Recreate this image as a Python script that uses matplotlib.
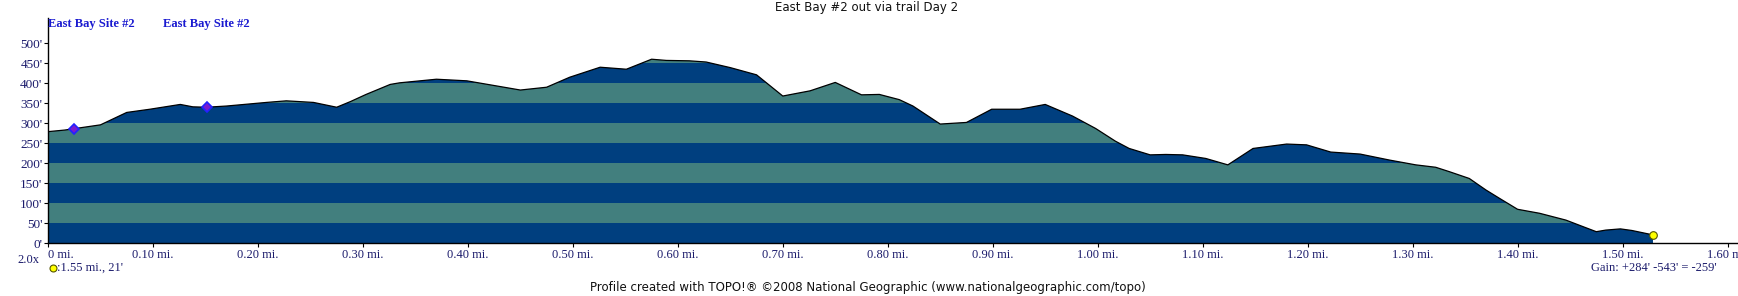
import numpy as np
import matplotlib.pyplot as plt
from matplotlib.patches import Polygon

# profile (miles, feet)
dist = [0.000, 0.016, 0.050, 0.075, 0.097, 0.126, 0.138, 0.151, 0.170, 0.208,
        0.227, 0.253, 0.275, 0.288, 0.303, 0.326, 0.335, 0.370, 0.399, 0.450,
        0.475, 0.497, 0.526, 0.551, 0.575, 0.589, 0.611, 0.627, 0.650, 0.675,
        0.700, 0.726, 0.750, 0.775, 0.792, 0.811, 0.824, 0.850, 0.875, 0.899,
        0.926, 0.950, 0.976, 0.998, 1.017, 1.030, 1.050, 1.065, 1.081, 1.103,
        1.124, 1.148, 1.180, 1.199, 1.222, 1.250, 1.278, 1.303, 1.322, 1.335,
        1.354, 1.370, 1.383, 1.400, 1.421, 1.446, 1.462, 1.475, 1.484, 1.498,
        1.509, 1.529]
elev = [279, 283, 296, 327, 335, 347, 341, 340, 343, 352,
        356, 352, 340, 354, 372, 397, 401, 410, 406, 383,
        390, 415, 440, 435, 460, 457, 456, 453, 439, 421,
        368, 381, 402, 371, 372, 359, 343, 298, 302, 335,
        335, 347, 318, 287, 255, 237, 221, 222, 221, 212,
        196, 237, 248, 246, 228, 223, 208, 196, 190, 179,
        162, 133, 112, 85, 75, 58, 42, 29, 33, 36,
        32, 21]

waypoint_dist = [0.025, 0.151]
waypoint_elev = [285, 340]
waypoint_names = ["East Bay Site #2", "East Bay Site #2"]
label_dist = [0.0, 0.110]

end_dist = 1.529
end_elev = 21

yticks = [0, 50, 100, 150, 200, 250, 300, 350, 400, 450, 500]
xticks = [0.0, 0.1, 0.2, 0.3, 0.4, 0.5, 0.6, 0.7, 0.8, 0.9, 1.0, 1.1, 1.2, 1.3, 1.4, 1.5, 1.6]
xlabels = ["0 mi."] + ["%.2f mi." % v for v in xticks[1:]]

dark = '#003f7f'
teal = '#427f7e'
navy = '#1c1c6c'
serif = ['Liberation Serif', 'DejaVu Serif']

fig = plt.figure(figsize=(17.38, 2.96), dpi=100)
ax = fig.add_axes([48 / 1738, 52.7 / 296, 1 - 48 / 1738, 225.3 / 296])

x = np.array(dist)
y = np.array(elev)
poly = Polygon(np.column_stack([np.r_[x, x[-1], x[0]], np.r_[y, 0, 0]]),
               closed=True, facecolor='none', edgecolor='none')
ax.add_patch(poly)
# 50 ft bands, clipped to the profile
for k in range(10):
    band = ax.axhspan(50 * k, 50 * (k + 1), color=dark if k % 2 == 0 else teal, lw=0)
    band.set_clip_path(poly)
ax.plot(x, y, color='black', lw=0.9)

ax.plot(waypoint_dist, waypoint_elev, 'D', ms=5, mfc='#7a1ad0', mec='#2222ff', mew=1.2)
for lx, name in zip(label_dist, waypoint_names):
    ax.text(lx, 548, name, color='#1a1ad0', fontsize=9, fontweight='bold',
            family=serif, ha='left', va='center')
ax.plot([end_dist], [end_elev], 'o', ms=5.5, mfc='#ffff00', mec='#555500', mew=0.8)

ax.set_xlim(0, 1.61)
ax.set_ylim(0, 563)
ax.set_xticks(xticks)
ax.set_xticklabels(xlabels)
ax.set_yticks(yticks)
ax.set_yticklabels(["%d'" % v for v in yticks])
for lab in ax.get_xticklabels():
    lab.set_family(serif)
    lab.set_fontsize(9)
    lab.set_color(navy)
for lab in ax.get_yticklabels():
    lab.set_family(serif)
    lab.set_fontsize(9.5)
    lab.set_color(navy)
ax.get_xticklabels()[0].set_horizontalalignment('left')
ax.tick_params(axis='y', length=3, width=0.8, pad=1)
ax.tick_params(axis='x', length=3, width=0.8, pad=1)
for s in ['top', 'right']:
    ax.spines[s].set_visible(False)
ax.spines['left'].set_linewidth(1.0)
ax.spines['bottom'].set_linewidth(1.0)
ax.set_facecolor('white')

fig.text(867 / 1738, 1 - 8 / 296, "East Bay #2 out via trail Day 2", ha='center', va='center',
         fontsize=8.5, color='#111111', family='DejaVu Sans')
fig.text(868 / 1738, 1 - 288 / 296,
         "Profile created with TOPO!\u00ae \u00a92008 National Geographic (www.nationalgeographic.com/topo)",
         ha='center', va='center', fontsize=8.5, color='#111111', family='DejaVu Sans')
fig.text(17 / 1738, 1 - 260 / 296, "2.0x", ha='left', va='center', fontsize=9,
         color=navy, family=serif)
fig.text(57 / 1738, 1 - 268 / 296, ":1.55 mi., 21'", ha='left', va='center', fontsize=9,
         color=navy, family=serif)
fig.add_artist(plt.Line2D([53 / 1738], [1 - 268 / 296], marker='o', ms=5, mfc='#ffff00',
                          mec='#555500', mew=0.8, transform=fig.transFigure))
fig.text(1717 / 1738, 1 - 268 / 296, "Gain: +284' -543' = -259'", ha='right', va='center',
         fontsize=9, color=navy, family=serif)

fig.savefig('out.png', dpi=100, facecolor='white')
